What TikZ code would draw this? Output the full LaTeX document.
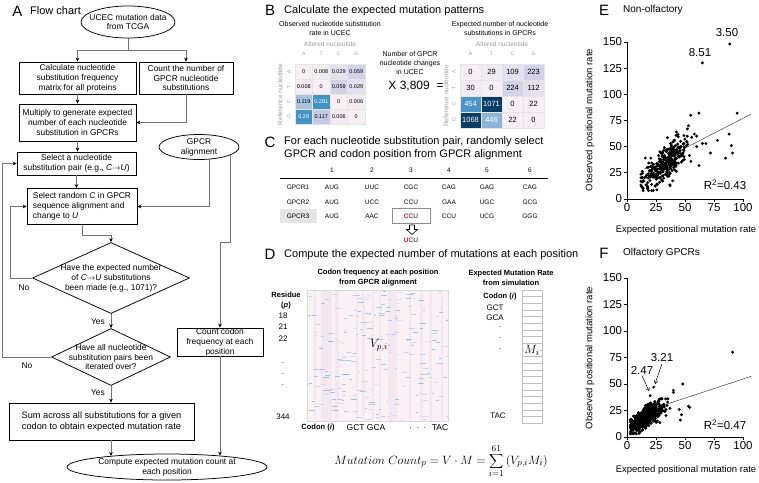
\documentclass[tikz,border=0pt]{standalone}
\usepackage{fontspec}
\setmainfont{Liberation Sans}
\usetikzlibrary{shapes.geometric,arrows.meta,calc}
\definecolor{mz}{HTML}{F8EFF5}
\definecolor{ma}{HTML}{F3EBF4}
\definecolor{mb}{HTML}{E5E0EF}
\definecolor{mc}{HTML}{D3D2E8}
\definecolor{md}{HTML}{C5C9E3}
\definecolor{me}{HTML}{A9C2DE}
\definecolor{mf}{HTML}{4593C6}
\definecolor{mg}{HTML}{8FB3D7}
\definecolor{mh}{HTML}{4D95C7}
\definecolor{mi}{HTML}{0A3D66}
\definecolor{labgray}{HTML}{9A9A9A}
\definecolor{hmbg}{HTML}{FAF1F6}
\definecolor{hmst}{HTML}{F4E8F0}
\definecolor{hmbl}{HTML}{6FA7D6}
\definecolor{redc}{HTML}{E8161B}
\begin{document}
\begin{tikzpicture}[x=1pt,y=-1pt,
  fbox/.style={draw, line width=0.75pt, font=\fontsize{8.4}{9.9}\selectfont, align=center, inner sep=0pt},
  fshape/.style={draw, line width=0.75pt, inner sep=0pt},
  ftext/.style={font=\fontsize{8.4}{9.9}\selectfont, align=center, inner sep=0pt},
  conn/.style={draw=black!55, line width=0.6pt, -{Stealth[length=4pt,width=3.6pt,color=black]}},
  plabel/.style={font=\fontsize{15}{15}\selectfont, inner sep=0pt},
  ptitle/.style={font=\fontsize{11}{12.5}\selectfont, inner sep=0pt, anchor=west},
  small/.style={font=\fontsize{7}{9}\selectfont, align=center, inner sep=0pt},
  glab/.style={font=\fontsize{6.5}{7}\selectfont, text=labgray, inner sep=0pt},
  glet/.style={font=\fontsize{5}{5}\selectfont, text=labgray, inner sep=0pt},
  lcell/.style={draw=black!10, line width=0.3pt, minimum width=17.5pt, minimum height=15pt, inner sep=0pt, font=\fontsize{5.5}{6}\selectfont},
  rcell/.style={draw=black!10, line width=0.3pt, minimum width=21pt, minimum height=16pt, inner sep=0pt, font=\fontsize{7.5}{8}\selectfont},
  tab/.style={font=\fontsize{6.5}{7}\selectfont, inner sep=0pt},
  tabd/.style={font=\fontsize{8}{9}\selectfont, inner sep=0pt},
  bsmall/.style={font=\bfseries\fontsize{7.5}{10}\selectfont, align=center, inner sep=0pt},
  tick/.style={font=\fontsize{11.5}{12}\selectfont, inner sep=1.5pt},
  atitle/.style={font=\fontsize{9.5}{10}\selectfont, inner sep=0pt},
  ann/.style={line width=0.5pt, -{Straight Barb[length=3pt,width=4pt]}}
]
\useasboundingbox (0,0) rectangle (759,482);

% ---------------- Panel A ----------------
\node[plabel] (pA) at (17.5,11) {A};
\node[ptitle] (tA) at (30,11) {Flow chart};
\node[fshape, ellipse, minimum width=94pt, minimum height=32pt,
  label={[ftext]center:{UCEC mutation data\\from TCGA}}] (u) at (128,22) {};
\node[fbox, minimum width=117pt, minimum height=32pt] (b1) at (77.5,78) {Calculate nucleotide\\substitution frequency\\matrix for all proteins};
\node[fbox, minimum width=94pt, minimum height=32pt] (b2) at (186,78) {Count the number of\\GPCR nucleotide\\substitutions};
\node[fbox, minimum width=117pt, minimum height=37pt] (b3) at (77.5,122.5) {Multiply to generate expected\\number of each nucleotide\\substitution in GPCRs};
\node[fbox, minimum width=119pt, minimum height=23pt] (b4) at (76.5,163.5) {Select a nucleotide\\substitution pair (e.g., \textit{C}$\rightarrow$\textit{U})};
\node[fshape, ellipse, minimum width=80pt, minimum height=25pt,
  label={[ftext]center:{GPCR\\alignment}}] (g) at (199,147) {};
\node[fbox, align=left, minimum width=110pt, minimum height=36pt] (b5) at (82,206.5) {Select random \textit{C} in GPCR\\sequence alignment and\\change to \textit{U}};
\node[fshape, diamond, minimum width=157pt, minimum height=71pt,
  label={[ftext]center:{Have the expected number\\of \textit{C}$\rightarrow$\textit{U} substitutions\\been made (e.g., 1071)?}}] (d1) at (111,278) {};
\node[fshape, diamond, minimum width=119pt, minimum height=57pt,
  label={[ftext]center:{Have all nucleotide\\substitution pairs been\\iterated over?}}] (d2) at (111,357) {};
\node[fbox, minimum width=86pt, minimum height=28pt] (cnt) at (220,342) {Count codon\\frequency at each\\position};
\node[fbox, font=\fontsize{9.2}{11}\selectfont, minimum width=185pt, minimum height=37pt] (sm) at (101.5,421.5) {Sum across all substitutions for a given\\codon to obtain expected mutation rate};
\node[fshape, ellipse, minimum width=200pt, minimum height=26pt,
  label={[ftext]center:{Compute expected mutation count at\\each position}}] (cmp) at (167,467) {};

\coordinate (uy) at (128,50);
\coordinate (gj) at (229,242);
\draw[conn] (u.south) -- (uy) -| (b1.north);
\draw[conn] (uy) -| (b2.north);
\draw[conn] (b1.south) -- (b3.north);
\draw[conn] (b2.south) |- (b3.east);
\draw[conn] (b3.south) -- (b3.south |- b4.north);
\draw[conn] (b4.south) -- (b4.south |- b5.north);
\draw[conn] (g.-50) |- (b5.east);
\draw[conn] (g.-15) -- (g.-15 |- gj) -| (cnt.north);
\draw[conn] (b5.south) -- ++(0,10) -| (d1.north);
\draw[conn] (d1.west) -- ++(-22,0) |- (b5.west);
\draw[conn] (d1.south) -- (d2.north);
\draw[conn] (d2.west) -- ++(-48.5,0) |- (b4.west);
\draw[conn] (d2.south) -- (d2.south |- sm.north);
\draw[conn] (sm.south -| d2.south) -- (d2.south |- cmp.169);
\draw[conn] (cnt.south) -- (cnt.south |- cmp.12);
\node[ftext] (no1) at (24,288) {No};
\node[ftext] (no2) at (27,366) {No};
\node[ftext] (ys1) at (98,322) {Yes};
\node[ftext] (ys2) at (98,393) {Yes};

% ---------------- Panel B ----------------
\node[plabel] (pB) at (270,10) {B};
\node[ptitle] (tB) at (284,11) {Calculate the expected mutation patterns};
\node[small] (lcap) at (330,28.5) {Observed nucleotide substitution\\rate in UCEC};
\node[glab] (lalt) at (330,44) {Altered nucleotide};
\node[glab, rotate=90] (lref) at (280,94.5) {Reference nucleotide};
\node[small] (rcap) at (500,28.5) {Expected number of nucleotide\\substitutions in GPCRs};
\node[glab] (ralt) at (502,44) {Altered nucleotide};
\node[glab, rotate=90] (rref) at (446,96) {Reference nucleotide};
\foreach \c/\l in {1/A,2/T,3/C,4/G}{
  \node[glet] (LA\c) at ({295+17.5*(\c-0.5)},54) {\l};
  \node[glet] (RA\c) at ({460+21*(\c-0.5)},54) {\l};
  \node[glet, rotate=90] (LR\c) at (289,{57+15*\c}) {\l};
  \node[glet, rotate=90] (RR\c) at (454,{56+16*\c}) {\l};
}
\foreach \r/\c/\v/\f/\t in {1/1/0/mz/black,1/2/0.008/ma/black,1/3/0.029/mb/black,1/4/0.059/mc/black,
  2/1/0.008/ma/black,2/2/0/mz/black,2/3/0.059/mc/black,2/4/0.029/mb/black,
  3/1/0.119/me/black,3/2/0.281/mf/white,3/3/0/mz/black,3/4/0.006/ma/black,
  4/1/0.28/mf/white,4/2/0.117/md/black,4/3/0.006/ma/black,4/4/0/mz/black}{
  \node[lcell, fill=\f, text=\t] (L\r\c) at ({295+17.5*(\c-0.5)},{57+15*\r}) {\v};
}
\foreach \r/\c/\v/\f/\t in {1/1/0/mz/black,1/2/29/ma/black,1/3/109/mb/black,1/4/223/mc/black,
  2/1/30/ma/black,2/2/0/mz/black,2/3/224/mc/black,2/4/112/mb/black,
  3/1/454/mh/white,3/2/1071/mi/white,3/3/0/mz/black,3/4/22/mz/black,
  4/1/1068/mi/white,4/2/446/mg/white,4/3/22/mz/black,4/4/0/mz/black}{
  \node[rcell, fill=\f, text=\t] (R\r\c) at ({460+21*(\c-0.5)},{56+16*\r}) {\v};
}
\node[small] (mid) at (410,62.5) {Number of GPCR\\nucleotide changes\\in UCEC};
\node[font=\fontsize{12}{12}\selectfont, inner sep=0pt] (x3) at (416,86) {X\ 3,809\ \ =};

% ---------------- Panel C ----------------
\node[plabel] (pC) at (270,142) {C};
\node[ptitle, align=left] (tC) at (284,148) {For each nucleotide substitution pair, randomly select\\GPCR and codon position from GPCR alignment};
\foreach \c/\x in {1/332,2/372,3/411,4/449,5/487,6/530}{
  \node[tab] (cn\c) at (\x,170) {\c};
}
\draw[line width=0.8pt] (280,178) -- (548,178);
\node[tab, fill=black!10, minimum width=37pt, minimum height=14pt] (gp3) at (298,216) {GPCR3};
\node[tab] (gp1) at (298,187) {GPCR1};
\node[tab] (gp2) at (298,202) {GPCR2};
\foreach \c/\x/\a/\b in {1/332/AUG/AUG,2/372/UUC/UCC,3/411/CGC/CCU,4/449/CAG/GAA,5/487/GAG/UGC,6/530/CAG/GCG}{
  \node[tab] (ra\c) at (\x,187) {\a};
  \node[tab] (rb\c) at (\x,202) {\b};
}
\node[tab, draw=black!45, line width=0.6pt, minimum width=38pt, minimum height=15pt] (ccu) at (411,216) {\textcolor{redc}{\textbf{C}}CU};
\foreach \c/\x/\a in {1/332/AUG,2/372/AAC,4/449/CCU,5/487/UCG,6/530/GGG}{
  \node[tab] (rc\c) at (\x,216) {\a};
}
\node[tab] (ucu) at (411,240.5) {\textcolor{redc}{\textbf{U}}CU};
\draw[line width=0.6pt, fill=white] (409.5,225) -- (414.5,225) -- (414.5,229.5) -- (417.5,229.5) -- (412,234.5) -- (406.5,229.5) -- (409.5,229.5) -- cycle;

% ---------------- Panel D ----------------
\node[plabel] (pD) at (270,254) {D};
\node[ptitle] (tD) at (284,255) {Compute the expected number of mutations at each position};
\node[bsmall] (hmcap) at (378,278) {Codon frequency at each position\\from GPCR alignment};
\node[fill=hmbg, minimum width=141pt, minimum height=131pt, inner sep=0pt] (hm) at (377.5,355.5) {};
\begin{scope}
  \clip (307,290) rectangle (448,421);
  \pgfmathsetseed{7}
  \foreach \k in {1,...,24}{
    \pgfmathsetmacro\sx{307+2.31*floor(61*rnd)}
    \fill[hmst] (\sx,290) rectangle ++(2.31,131);
  }
  \foreach \k in {1,...,230}{
    \pgfmathsetmacro\dx{307+2.31*floor(61*rnd)}
    \pgfmathsetmacro\dy{290+131*rnd}
    \pgfmathsetmacro\dw{2+4.5*rnd}
    \pgfmathsetmacro\op{0.12+0.55*rnd}
    \fill[hmbl, opacity=\op] (\dx,\dy) rectangle ++(\dw,0.9);
  }
\end{scope}
\draw[black!15, line width=0.4pt] (hm.north west) rectangle (hm.south east);
\node[font=\fontsize{13}{13}\selectfont, inner sep=0pt] (vpi) at (379,345) {$V_{p,i}$};
\node[bsmall] (res) at (286,300.5) {Residue\\(\textit{p})};
\foreach \n/\y in {18/316,21/327,22/339,344/417}{
  \node[tabd] (rn\n) at (283,\y) {\n};
}
\foreach \k/\y in {1/363,2/374,3/385}{
  \node[tabd] (rd\k) at (283,\y) {.};
}
\node[bsmall] (cdi) at (318,428) {Codon (\textit{i})};
\node[font=\fontsize{8.5}{9}\selectfont, inner sep=0pt] (gcx) at (366,428) {GCT GCA};
\node[font=\fontsize{8.5}{9}\selectfont, inner sep=0pt] (dtx) at (418,428) {.\ \ .\ \ .};
\node[font=\fontsize{8.5}{9}\selectfont, inner sep=0pt] (tacx) at (440,428) {TAC};
\node[bsmall] (emr) at (511,278) {Expected Mutation Rate\\from simulation};
\node[bsmall] (cdi2) at (500,297) {Codon (\textit{i})};
\node[tabd] (gct2) at (495,308) {GCT};
\node[tabd] (gca2) at (495,318) {GCA};
\foreach \k/\y in {1/327,2/338,3/349}{
  \node[tabd] (md\k) at (500,\y) {.};
}
\node[tabd] (tac2) at (498,416) {TAC};
\foreach \k in {0,...,19}{
  \draw[black!25, line width=0.4pt, fill=white] (522,{290+\k*6.65}) rectangle (542,{290+(\k+1)*6.65});
}
\node[font=\fontsize{13}{13}\selectfont, inner sep=0.5pt, fill=white] (mii) at (532,350) {$M_i$};
\node[font=\fontsize{13}{15}\selectfont, inner sep=0pt] (form) at (441,461) {$Mutation\ Count_p = V\cdot M = \displaystyle\sum_{i=1}^{61}\left(V_{p,i}M_i\right)$};

% ---------------- Panel E ----------------
\node[plabel] (pE) at (604,10) {E};
\node[ptitle, font=\fontsize{10}{12}\selectfont] (tE) at (623,10) {Non-olfactory};
\node[atitle, rotate=90] (eyl) at (590,120) {Observed positional mutation rate};
\node[atitle] (exl) at (686,230) {Expected positional mutation rate};
\begin{scope}[shift={(627,199)}, x=1.16pt, y=1.047pt]
  \draw[black!75, line width=0.5pt] (15,{52+0.57*(15-56)}) -- (107,{52+0.57*(107-56)});
  \pgfmathsetseed{31}
  \foreach \k in {1,...,330}{
    \pgfmathsetmacro\gx{(rnd+rnd+rnd+rnd-2)*1.732}
    \pgfmathsetmacro\gy{(rnd+rnd+rnd+rnd-2)*1.732}
    \pgfmathsetmacro\px{max(12,min(62,33+9.5*\gx))}
    \pgfmathsetmacro\py{max(8,min(72,6+0.85*\px+8.5*\gy))}
    \fill (\px,\py) circle[radius=1.6pt];
  }
  \foreach \px/\py in {88.6/148,65/130,95/82,62/82,55/80,88/62,90/51,91/44,85/39,72/44,78/56,68/53,65/53,60/50,62/32,53/70,52/67,58/62,60/60}{
    \fill (\px,\py) circle[radius=1.6pt];
  }
  \draw[line width=0.8pt] (0,150) -- (0,0) -- (100,0);
  \foreach \t in {0,25,...,150}{
    \draw[line width=0.8pt] (0,\t) -- ++(-3pt,0) node[left, tick] (ey\t) {\t};
  }
  \foreach \t in {0,25,...,100}{
    \draw[line width=0.8pt] (\t,0) -- ++(0,-3pt) node[below, tick] (ex\t) {\t};
  }
\end{scope}
\node[tick] (a350) at (727,33) {3.50};
\node[tick] (a851) at (700,53) {8.51};
\node[tick] (r2e) at (725,185) {R\textsuperscript{2}=0.43};

% ---------------- Panel F ----------------
\node[plabel] (pF) at (604,253) {F};
\node[ptitle, font=\fontsize{10}{12}\selectfont] (tF) at (623,253) {Olfactory GPCRs};
\node[atitle, rotate=90] (fyl) at (590,358) {Observed positional mutation rate};
\node[atitle] (fxl) at (686,470) {Expected positional mutation rate};
\begin{scope}[shift={(627,437)}, x=1.16pt, y=1.06pt]
  \draw[black!75, line width=0.5pt] (10,{32+0.36*(10-37)}) -- (107,{32+0.36*(107-37)});
  \pgfmathsetseed{57}
  \foreach \k in {1,...,500}{
    \pgfmathsetmacro\gx{(rnd+rnd+rnd+rnd-2)*1.732}
    \pgfmathsetmacro\gy{(rnd+rnd+rnd+rnd-2)*1.732}
    \pgfmathsetmacro\px{max(3,min(42,17+7*\gx))}
    \pgfmathsetmacro\py{max(3,min(36,8+0.65*\px+5*\gy))}
    \fill (\px,\py) circle[radius=1.6pt];
  }
  \foreach \px/\py in {91/80,23/47,20/39,48/50,53/29,54/28,46/16,40/42,40/44,45/26,37/27,47/21,35/33,30/36}{
    \fill (\px,\py) circle[radius=1.6pt];
  }
  \draw[line width=0.8pt] (0,150) -- (0,0) -- (100,0);
  \foreach \t in {0,25,...,150}{
    \draw[line width=0.8pt] (0,\t) -- ++(-3pt,0) node[left, tick] (fy\t) {\t};
  }
  \foreach \t in {0,25,...,100}{
    \draw[line width=0.8pt] (\t,0) -- ++(0,-3pt) node[below, tick] (fx\t) {\t};
  }
\end{scope}
\node[tick] (a321) at (662,358) {3.21};
\node[tick] (a247) at (642,370) {2.47};
\coordinate (p321) at (655,384);
\coordinate (p247) at (649,391);
\draw[ann] (a321.south) -- (p321);
\draw[ann] (a247.south) -- (p247);
\node[tick] (r2f) at (725,425) {R\textsuperscript{2}=0.47};
\end{tikzpicture}
\end{document}
